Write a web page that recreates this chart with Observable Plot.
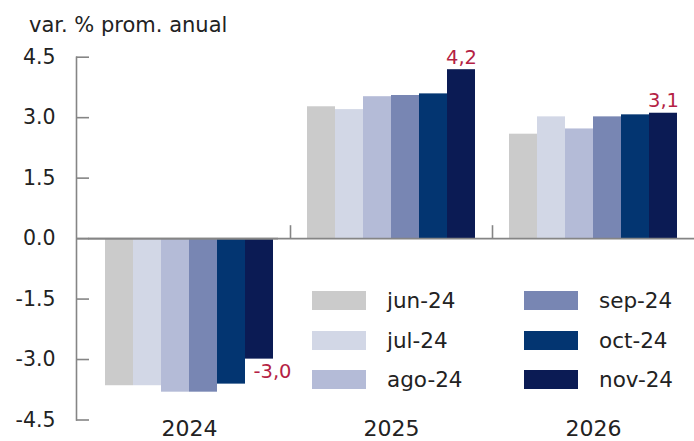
<!DOCTYPE html>
<html><head><meta charset="utf-8">
<script src="https://cdn.jsdelivr.net/npm/d3@7"></script>
<script src="https://cdn.jsdelivr.net/npm/@observablehq/plot@0.6"></script>
<style>
body{margin:0;background:#fff;font-family:"DejaVu Sans",sans-serif;overflow:hidden}
#wrap{position:relative;width:694px;height:441px;overflow:hidden}
#title{height:40px;box-sizing:border-box;padding:14.5px 0 0 29px;font-size:21px;line-height:21px;color:#222;white-space:nowrap}
#legend{position:absolute;left:312px;top:281px;display:grid;grid-template-rows:repeat(3,39.5px);grid-auto-flow:column;grid-auto-columns:212px}
.item{display:flex;align-items:center}
.sw{width:54px;height:19px;margin-right:21px;flex:none}
.lab{font-size:21.5px;color:#222;line-height:1}
</style></head><body>
<div id="wrap"><div id="title">var. % prom. anual</div><div id="chart"></div><div id="legend"></div></div>
<script>
const years = ["2024", "2025", "2026"];
const months = ["jun-24", "jul-24", "ago-24", "sep-24", "oct-24", "nov-24"];
const colors = ["#cbcbcb", "#d2d7e6", "#b4bbd7", "#7886b3", "#033571", "#0b1b54"];
const v2024 = [-3.65, -3.65, -3.81, -3.81, -3.61, -2.99];
const v2025 = [3.27, 3.20, 3.52, 3.55, 3.59, 4.19];
const v2026 = [2.59, 3.02, 2.72, 3.02, 3.07, 3.11];
const yTicks = [-4.5, -3.0, -1.5, 0.0, 1.5, 3.0, 4.5];
const labelMonth = "nov-24";

const series = [v2024, v2025, v2026];
const data = [];
years.forEach((yr, i) => months.forEach((m, j) => data.push({year: yr, month: m, value: series[i][j]})));
const labelled = data.filter(d => d.month === labelMonth);
const fmt = d => d.value.toFixed(1).replace(".", ",");

const W = 694, H = 401, ML = 88, MR = 0;
const FW = (W - ML - MR) / years.length;
const axisGray = "#858585";
const red = "#b51f45";

const chart = Plot.plot({
  width: W, height: H,
  marginLeft: ML, marginRight: MR, marginTop: 16.7, marginBottom: 21.5,
  style: {fontFamily: "DejaVu Sans, sans-serif", fontSize: "20px", color: "#222", background: "white", overflow: "visible"},
  fx: {domain: years, padding: 0, label: null},
  x: {domain: months, paddingInner: 0, paddingOuter: 0.59, axis: null},
  y: {domain: [-4.5, 4.5], label: null},
  color: {domain: months, range: colors},
  marks: [
    Plot.barY(data, {fx: "year", x: "month", y: "value", fill: "month"}),
    Plot.ruleY([0], {stroke: axisGray, strokeWidth: 1.6}),
    Plot.ruleY([0], {stroke: axisGray, strokeWidth: 1.6, facetAnchor: "left", dx: -12}),
    Plot.frame({anchor: "left", facetAnchor: "left", dx: -12, stroke: axisGray, strokeWidth: 1.6}),
    Plot.ruleX(years.slice(1).map(y => ({year: y})), {fx: "year", x: null, y1: 0, y2: 0.32, dx: -FW / 2, stroke: axisGray, strokeWidth: 1.6}),
    Plot.axisY({ticks: yTicks, tickFormat: d => d.toFixed(1), label: null, tickSize: -13, tickPadding: 34, dx: -12, stroke: axisGray, strokeWidth: 1.6, fill: "#222", fontSize: 20.5}),
    Plot.axisFx({anchor: "bottom", tickSize: 0, tickPadding: 0, fontSize: 22, fill: "#222", label: null}),
    Plot.text(labelled.filter(d => d.value > 0), {fx: "year", x: "month", y: "value", text: fmt, lineAnchor: "bottom", dy: -6, fill: red, fontSize: 19.5}),
    Plot.text(labelled.filter(d => d.value < 0), {fx: "year", x: "month", y: "value", text: fmt, lineAnchor: "top", dy: 5, dx: 13, fill: red, fontSize: 19.5})
  ]
});
document.getElementById("chart").appendChild(chart);

const legend = d3.select("#legend");
months.forEach((m, i) => {
  const it = legend.append("div").attr("class", "item");
  it.append("div").attr("class", "sw").style("background", colors[i]);
  it.append("span").attr("class", "lab").text(m);
});
</script>
</body></html>
